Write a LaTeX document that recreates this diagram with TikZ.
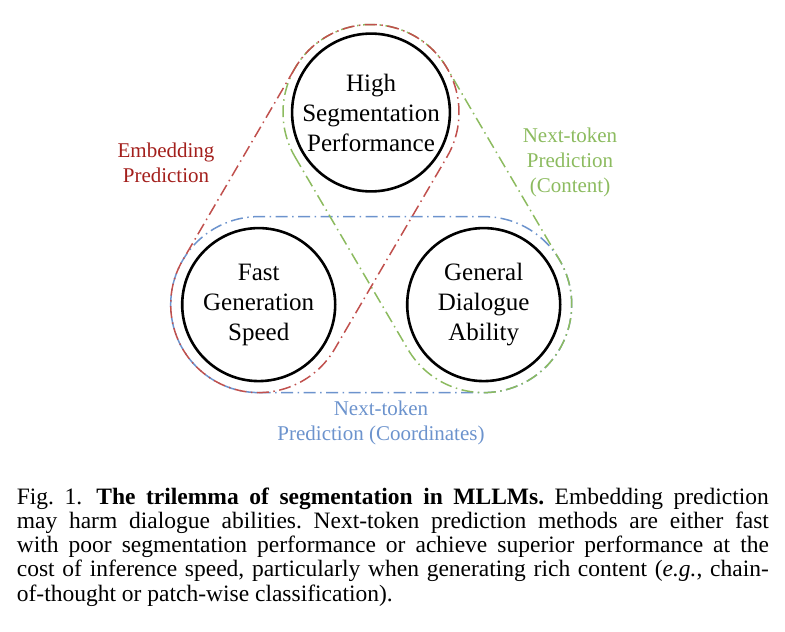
\documentclass[tikz,border=0pt]{standalone}
\usepackage{fontspec}
\setmainfont{Liberation Serif}
\usetikzlibrary{calc}
\definecolor{embedred}{HTML}{C0504D}
\definecolor{embedtext}{HTML}{A31F1C}
\definecolor{contentgreen}{HTML}{8CBB5F}
\definecolor{coordblue}{HTML}{6C93CD}
\frenchspacing
\begin{document}
\begin{tikzpicture}[x=1pt,y=1pt,
    goal/.style={circle,draw,line width=2.6pt,minimum size=153pt,inner sep=0pt,align=center,font=\fontsize{25}{30}\selectfont},
    route/.style={line width=1.5pt,dash pattern=on 12pt off 4.5pt on 1.5pt off 4.5pt},
    routelabel/.style={align=center,inner sep=0pt,font=\fontsize{21}{25}\selectfont}]
    \useasboundingbox (0,0) rectangle (785,-632);
    \node[goal] (perf) at (371,-112.5) {High\\Segmentation\\Performance};
    \node[goal] (speed) at (258.7,-304.6) {Fast\\Generation\\Speed};
    \node[goal] (dialog) at (483.7,-304.6) {General\\Dialogue\\Ability};
    % next-token prediction (coordinates)
    \draw[route,coordblue] ($(speed)+(270:88)$) -- ($(dialog)+(270:88)$) arc[start angle=270,end angle=450,radius=88]
        -- ($(speed)+(90:88)$) arc[start angle=90,end angle=270,radius=88] -- cycle;
    % next-token prediction (content)
    \draw[route,contentgreen] ($(perf)+(210:88)$) -- ($(dialog)+(210:88)$) arc[start angle=210,end angle=390,radius=88]
        -- ($(perf)+(30:88)$) arc[start angle=30,end angle=210,radius=88] -- cycle;
    % embedding prediction
    \draw[route,embedred] ($(perf)+(150:88)$) -- ($(speed)+(150:88)$) arc[start angle=150,end angle=330,radius=88]
        -- ($(perf)+(330:88)$) arc[start angle=330,end angle=510,radius=88] -- cycle;
    \node[routelabel,text=embedtext] (embedlbl) at (166,-163) {Embedding\\Prediction};
    \node[routelabel,text=contentgreen] (contentlbl) at (570,-162.5) {Next-token\\Prediction\\(Content)};
    \node[routelabel,text=coordblue] (coordlbl) at (381,-423) {Next-token\\Prediction (Coordinates)};
    % caption
    \node[anchor=north west,inner sep=0pt,text width=752pt,align=justify,font=\fontsize{23.5}{24.25}\selectfont] (caption) at (16.7,-487.3)
        {Fig.~1.\hspace{0.6em}\textbf{The trilemma of segmentation in MLLMs.} Embedding prediction\linebreak
        may harm dialogue abilities. Next-token prediction methods are either fast\linebreak
        with poor segmentation performance or achieve superior performance at the\linebreak
        cost of inference speed, particularly when generating rich content (\textit{e.g.}, chain-\linebreak
        of-thought or patch-wise classification).};
\end{tikzpicture}
\end{document}
